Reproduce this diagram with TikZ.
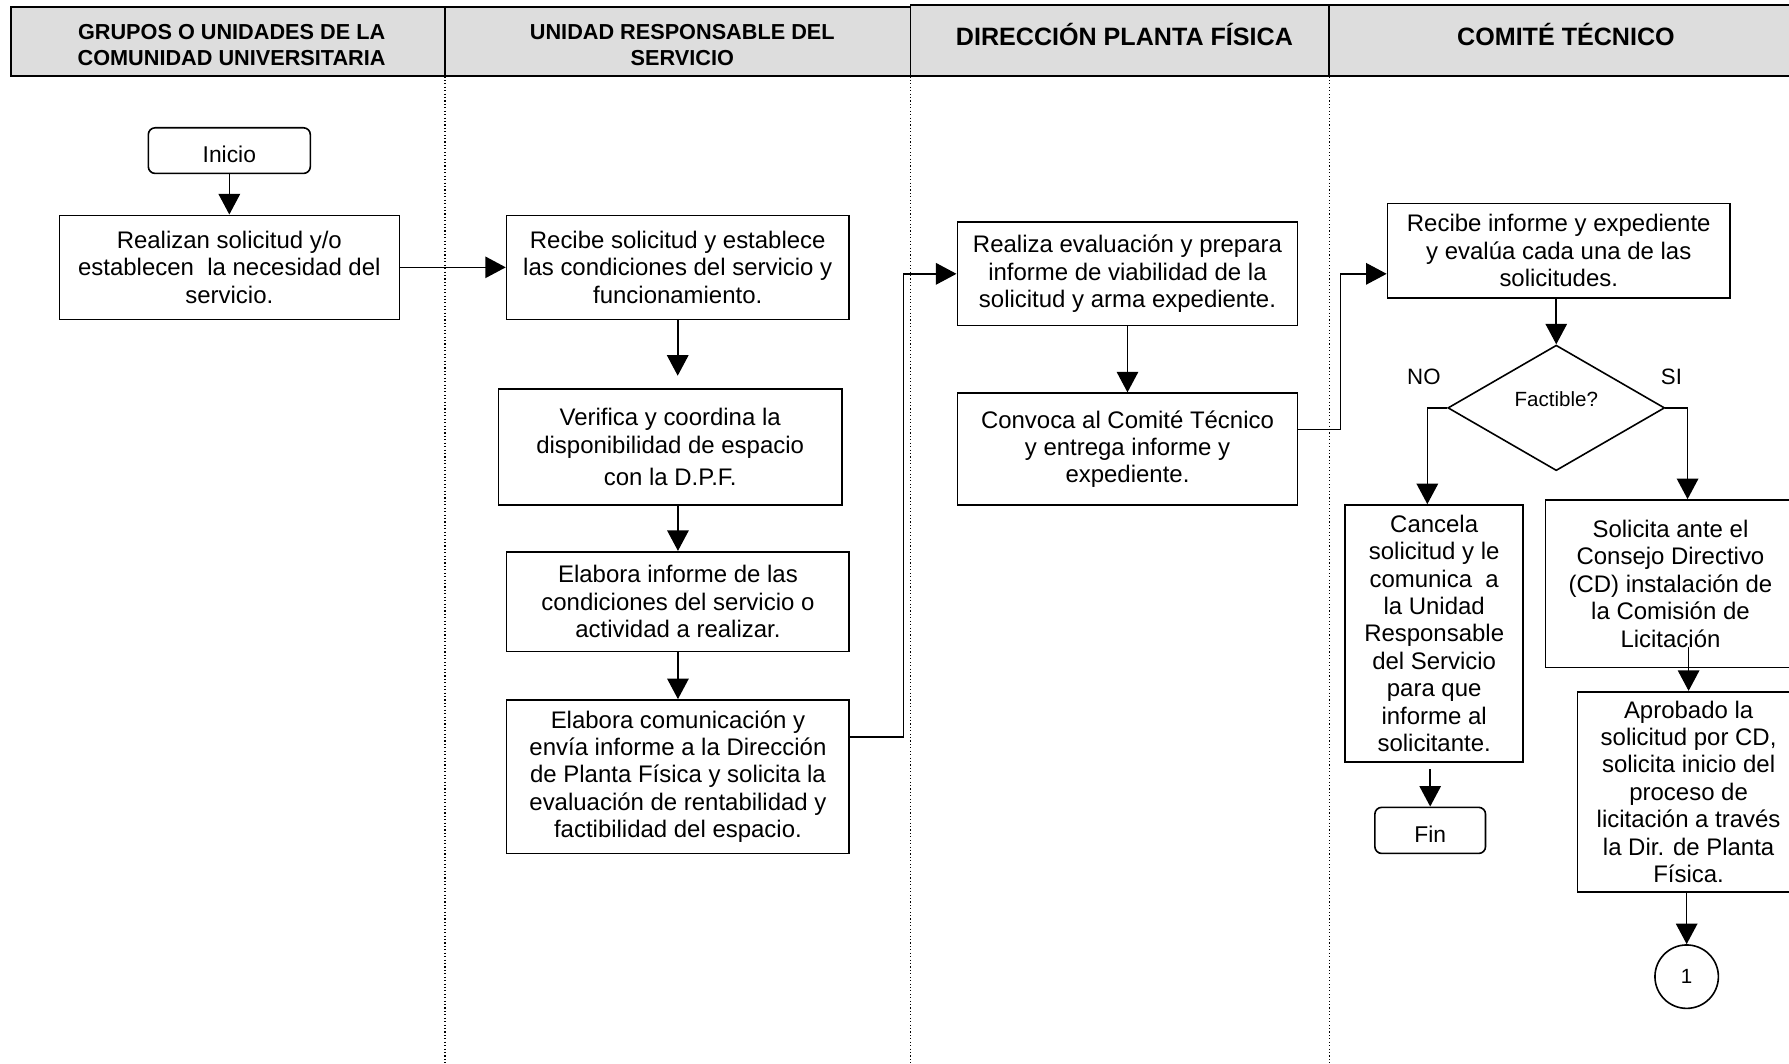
\documentclass[tikz,border=0pt]{standalone}
\usepackage{fontspec}
\setmainfont{Liberation Sans}
\usetikzlibrary{arrows.meta,shapes.geometric,calc}
\definecolor{cabecera}{HTML}{DDDDDD}

\begin{document}
\begin{tikzpicture}[x=0.5pt, y=-0.5pt,
  caja/.style={draw, line width=0.7pt, align=center, inner sep=0pt,
    font=\fontsize{10.5}{12}\selectfont},
  terminal/.style={caja, rounded corners=3pt, font=\fontsize{10}{12}\selectfont},
  decision/.style={draw, diamond, line width=0.7pt, inner sep=0pt,
    minimum width=95pt, minimum height=55pt, font=\fontsize{9}{11}\selectfont},
  conector/.style={draw, circle, line width=0.7pt, inner sep=0pt,
    minimum size=27.8pt, font=\fontsize{9}{10}\selectfont},
  flujo/.style={line width=0.7pt, -{Triangle[width=9.4pt,length=9pt]}},
  carril/.style={line width=0.5pt, densely dotted},
  titulo/.style={align=center, font=\bfseries\fontsize{9.5}{11.5}\selectfont},
  titulogr/.style={anchor=base, font=\bfseries\fontsize{11}{13}\selectfont},
  rotulo/.style={font=\fontsize{9.75}{12}\selectfont}]

  \useasboundingbox (0,0) rectangle (1568,932);
  \clip (0,0) rectangle (1568,932);

  % cabecera
  \filldraw[fill=cabecera, line width=0.8pt] (10,6) rectangle (798,66.6);
  \filldraw[fill=cabecera, line width=0.8pt] (798,4.4) rectangle (1590,66.6);
  \draw[line width=0.8pt] (390,6) -- (390,66.6);
  \draw[line width=0.8pt] (1165,4.4) -- (1165,66.6);
  \draw[line width=1.2pt] (10,66.6) -- (1590,66.6);
  \foreach \x in
    {
        390,798,1165
    }
    {
        \draw[carril] (\x,67) -- (\x,932);
    }

  \node[titulo] (h1) at (203,39.3) {GRUPOS O UNIDADES DE LA\\COMUNIDAD UNIVERSITARIA};
  \node[titulo] (h2) at (598,39.3) {UNIDAD RESPONSABLE DEL\\SERVICIO};
  \node[titulogr] (h3) at (985.5,40) {DIRECCIÓN PLANTA FÍSICA};
  \node[titulogr] (h4) at (1372.5,40) {COMITÉ TÉCNICO};

  % primer carril
  \node[terminal, minimum width=71pt, minimum height=20pt] (inicio) at (201,132)
    {\raisebox{-1.5pt}[\height][\depth]{Inicio}};
  \node[caja, minimum width=149pt, minimum height=45.6pt] (solicitud) at (201,234.3)
    {Realizan solicitud y/o\\establecen\ \ la necesidad del\\servicio.};

  % segundo carril
  \node[caja, minimum width=150pt, minimum height=45.6pt] (recibe) at (594,234.3)
    {Recibe solicitud y establece\\las condiciones del servicio y\\funcionamiento.};
  \node[caja, minimum width=150.35pt, minimum height=50.8pt] (verifica) at (587.4,391.8)
    {Verifica y coordina la\\disponibilidad de espacio\\[2pt]con la D.P.F.};
  \node[caja, minimum width=150.15pt, minimum height=43.75pt] (elabinf) at (594.2,527.3)
    {Elabora informe de las\\condiciones del servicio o\\actividad a realizar.};
  \node[caja, minimum width=150.15pt, minimum height=67.25pt] (elabcom) at (594.2,680.7)
    {Elabora comunicación y\\envía informe a la Dirección\\de Planta Física y solicita la\\evaluación de rentabilidad y\\factibilidad del espacio.};

  % tercer carril
  \node[caja, minimum width=149.15pt, minimum height=45.4pt] (realiza) at (988.2,240)
    {Realiza evaluación y prepara\\informe de viabilidad de la\\solicitud y arma expediente.};
  \node[caja, minimum width=149.15pt, minimum height=49pt] (convoca) at (988.2,393.6)
    {Convoca al Comité Técnico\\y entrega informe y\\expediente.};

  % cuarto carril
  \node[caja, minimum width=150.15pt, minimum height=41.35pt] (recinf) at (1366.2,219.6)
    {Recibe informe y expediente\\y evalúa cada una de las\\solicitudes.};
  \node[decision] (dec) at (1364,357.5) {\raisebox{4pt}[\height][\depth]{Factible?}};
  \node[rotulo] (no) at (1248,330) {NO};
  \node[rotulo] (si) at (1465,330) {SI};
  \node[caja, minimum width=78pt, minimum height=112.5pt] (cancela) at (1257,555.1)
    {Cancela\\solicitud y le\\comunica\ \ a\\la Unidad\\Responsable\\del Servicio\\para que\\informe al\\solicitante.};
  \node[terminal, minimum width=48.5pt, minimum height=20.2pt] (fin) at (1253.5,727.8)
    {\raisebox{-1.5pt}[\height][\depth]{Fin}};
  \node[caja, minimum width=109.4pt, minimum height=73.4pt] (soli) at (1464.1,511.6)
    {Solicita ante el\\Consejo Directivo\\(CD) instalación de\\la Comisión de\\Licitación};
  \node[caja, minimum width=97.5pt, minimum height=87.65pt] (aprob) at (1480,693.9)
    {Aprobado la\\solicitud por CD,\\solicita inicio del\\proceso de\\licitación a través\\la Dir. de Planta\\Física.};
  \node[conector] (circ) at (1478.3,856) {1};

  % conectores
  \coordinate (c1) at (792,646);
  \coordinate (c2) at (1175,376.3);
  \coordinate (c3) at (1175,240);
  \draw[flujo] (inicio) -- (solicitud);
  \draw[flujo] (solicitud) -- (recibe);
  \draw[flujo, shorten >=5.5pt] (recibe.south) -- (recibe.south |- verifica.north);
  \draw[flujo] (elabinf.north |- verifica.south) -- (elabinf.north);
  \draw[flujo] (elabinf) -- (elabcom);
  \draw[flujo] (elabcom.east |- c1) -- (c1) |- (realiza.west);
  \draw[flujo] (realiza) -- (convoca);
  \draw[flujo] (convoca.east |- c2) -- (c2) -- (c3) -- (recinf.west |- c3);
  \draw[flujo] (recinf.south -| dec.north) -- (dec.north);
  \draw[flujo] (dec.west) -| ([xshift=-3pt]cancela.north);
  \draw[flujo] (dec.east) -| ([xshift=7.5pt]soli.north);
  \draw[flujo] ([yshift=9.5pt]soli.south -| aprob.north) -- (aprob.north);
  \draw[flujo] ([yshift=-3pt]cancela.south -| fin.north) -- (fin.north);
  \draw[flujo] (aprob.south -| circ.north) -- (circ.north);
\end{tikzpicture}
\end{document}
